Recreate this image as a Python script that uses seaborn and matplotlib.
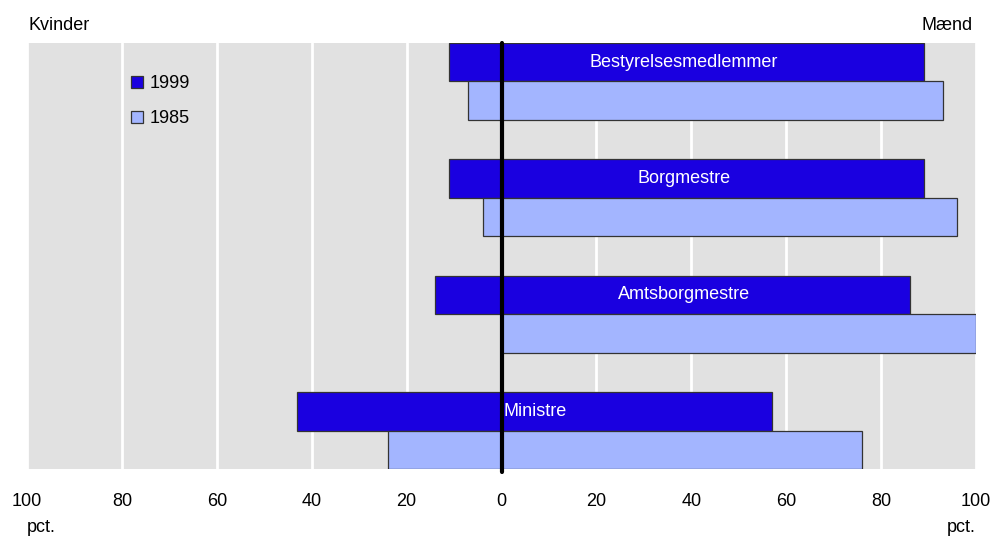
import numpy as np
import matplotlib
matplotlib.use("Agg")
import matplotlib.pyplot as plt
import seaborn as sns
import pandas as pd
from matplotlib.patches import Patch

# data (andel i pct.)
categories = ["Bestyrelsesmedlemmer", "Borgmestre", "Amtsborgmestre", "Ministre"]
years = ["1999", "1985"]
kvinder_1999 = [11, 11, 14, 43]
maend_1999 = [89, 89, 86, 57]
kvinder_1985 = [7, 4, 0, 24]
maend_1985 = [93, 96, 100, 76]
tick_values = [-100, -80, -60, -40, -20, 0, 20, 40, 60, 80, 100]

sns.set_style("white")
plt.rcParams['font.family'] = ['Liberation Sans', 'DejaVu Sans']
plt.rcParams['text.color'] = "black"
plt.rcParams['xtick.color'] = "black"

df_k = pd.DataFrame({
    "kategori": categories * 2,
    "aar": ["1999"] * 4 + ["1985"] * 4,
    "vaerdi": [-v for v in kvinder_1999 + kvinder_1985],
})
df_m = pd.DataFrame({
    "kategori": categories * 2,
    "aar": ["1999"] * 4 + ["1985"] * 4,
    "vaerdi": maend_1999 + maend_1985,
})

colors = {"1999": "#1a00e0", "1985": "#a3b5ff"}
fs = 13

fig = plt.figure(figsize=(10.05, 5.38), dpi=100)
ax = fig.add_axes([27 / 1005, 1 - 469 / 538, 949 / 1005, 426 / 538])
ax.set_facecolor("#e1e1e1")

for d in [df_k, df_m]:
    sns.barplot(data=d, y="kategori", x="vaerdi", hue="aar", hue_order=years,
                order=categories, palette=colors, orient="h", width=0.66,
                saturation=1, edgecolor="#333333", linewidth=0.9, errorbar=None,
                legend=False, ax=ax, zorder=3)

ax.set_xlim(-100, 100)
ax.set_ylim(3.33, -0.33)
for v in tick_values:
    ax.axvline(v, color="white", lw=2, zorder=1)
ax.axvline(0, color="black", lw=3, zorder=5, ymin=-0.008, ymax=1.0, clip_on=False)

# kategori-tekster
for i, c in enumerate(categories):
    if c == "Ministre":
        ax.text(0.5, i - 0.165, c, color="white", fontsize=fs, ha="left", va="center", zorder=6)
    else:
        ax.text(38.5, i - 0.165, c, color="white", fontsize=fs, ha="center", va="center", zorder=6)

ax.set_xticks(tick_values)
ax.set_xticklabels([str(abs(v)) for v in tick_values], fontsize=fs)
ax.set_yticks([])
ax.set_xlabel("")
ax.set_ylabel("")
ax.tick_params(axis="x", length=0, pad=17)
for s in ax.spines.values():
    s.set_visible(False)

handles = [Patch(facecolor=colors[y], edgecolor="#333333", linewidth=0.9, label=y) for y in years]
ax.legend(handles=handles, loc="upper left", bbox_to_anchor=(0.092, 0.962), frameon=False,
          fontsize=fs, handlelength=0.7, handleheight=0.7, handletextpad=0.35, labelspacing=1.0)

fig.text(28 / 1005, 1 - 25 / 538, "Kvinder", fontsize=fs, ha="left", va="center")
fig.text(973 / 1005, 1 - 25 / 538, "Mænd", fontsize=fs, ha="right", va="center")
fig.text(27 / 1005, 1 - 528 / 538, "pct.", fontsize=fs, ha="left", va="center")
fig.text(976 / 1005, 1 - 528 / 538, "pct.", fontsize=fs, ha="right", va="center")

plt.savefig("out.png", dpi=100)
